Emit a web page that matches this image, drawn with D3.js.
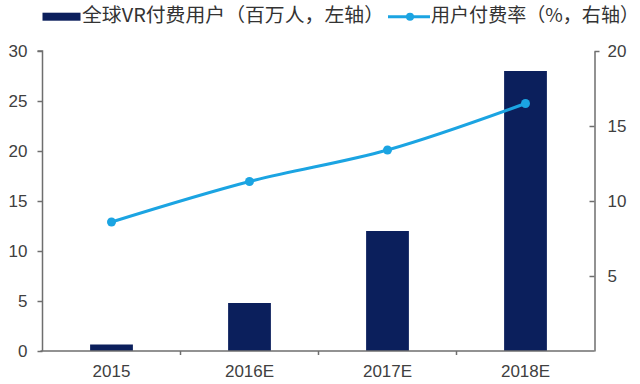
<!DOCTYPE html>
<html>
<head>
<meta charset="utf-8">
<script src="https://cdn.jsdelivr.net/npm/d3@7"></script>
<style>
  html, body { margin: 0; padding: 0; background: #fff; }
  svg { display: block; }
</style>
</head>
<body>
<svg id="chart" width="640" height="384"></svg>
<script>
// ---- data ----
const categories = ["2015", "2016E", "2017E", "2018E"];
const paidUsers = [0.65, 4.8, 12.0, 28.0];      // 百万人，左轴
const payRate = [8.6, 11.3, 13.4, 16.5];         // %，右轴
const leftTicks = [0, 5, 10, 15, 20, 25, 30];
const rightTicks = [5, 10, 15, 20];
const legendBarLabel = "全球VR付费用户（百万人，左轴）";
const legendLineLabel = "用户付费率（%，右轴）";

// ---- layout ----
const svg = d3.select("#chart");
const plotLeft = 42.5, plotRight = 594.5, plotTop = 51, plotBottom = 351;
const barColor = "#0b1f5c";
const lineColor = "#1ba4e2";
const axisColor = "#6e6e6e";
const textColor = "#404040";
const numFont = "'Liberation Sans', Arial, sans-serif";
const cjkFont = "'Noto Sans CJK SC', sans-serif";

const x = d3.scaleBand().domain(categories).range([plotLeft, plotRight]).padding(0);
const yL = d3.scaleLinear().domain([0, 30]).range([plotBottom, plotTop]);
const yR = d3.scaleLinear().domain([0, 20]).range([plotBottom, plotTop]);

// bars
const bw = x.bandwidth() * 0.31;
svg.append("g").selectAll("rect").data(categories).join("rect")
  .attr("x", (d) => x(d) + x.bandwidth() / 2 - bw / 2)
  .attr("width", bw)
  .attr("y", (d, i) => yL(paidUsers[i]))
  .attr("height", (d, i) => yL(0) - yL(paidUsers[i]))
  .attr("fill", barColor);

// left axis
const gL = svg.append("g").attr("transform", `translate(${plotLeft},0)`)
  .call(d3.axisLeft(yL).tickValues(leftTicks).tickSize(5).tickPadding(10).tickSizeOuter(0));
// right axis
const gR = svg.append("g").attr("transform", `translate(${plotRight},0)`)
  .call(d3.axisRight(yR).tickValues(rightTicks).tickSize(0).tickPadding(13).tickSizeOuter(0));
gR.selectAll(".tick line").attr("x1", (d) => d === 20 ? 5 : -5).attr("x2", 0);
// x axis
const gX = svg.append("g").attr("transform", `translate(0,${plotBottom})`)
  .call(d3.axisBottom(x).tickSize(0).tickPadding(14).tickSizeOuter(0));
gX.select(".domain").attr("d", `M${plotLeft - 2},0H${plotRight}`);
// category boundary ticks
svg.append("g").selectAll("line").data(categories.slice(1)).join("line")
  .attr("x1", (d) => x(d)).attr("x2", (d) => x(d))
  .attr("y1", plotBottom).attr("y2", plotBottom + 4)
  .attr("stroke", axisColor).attr("stroke-width", 1.5);

[gL, gR, gX].forEach((g) => {
  g.selectAll(".domain").attr("stroke", axisColor).attr("stroke-width", 1.5);
  g.selectAll(".tick line").attr("stroke", axisColor).attr("stroke-width", 1.5);
  g.selectAll(".tick text").attr("fill", textColor)
    .style("font-family", numFont).style("font-size", "17px");
});
gL.selectAll(".domain").attr("d", `M0,${plotBottom}V${plotTop}H-5`);

// line
const pts = categories.map((c, i) => [x(c) + x.bandwidth() / 2, yR(payRate[i])]);
svg.append("path").datum(pts)
  .attr("d", d3.line().curve(d3.curveCatmullRom.alpha(0.5)))
  .attr("fill", "none").attr("stroke", lineColor).attr("stroke-width", 3);
svg.append("g").selectAll("circle").data(pts).join("circle")
  .attr("cx", (d) => d[0]).attr("cy", (d) => d[1]).attr("r", 4.5)
  .attr("fill", lineColor);

// legend
const lg = svg.append("g");
lg.append("rect").attr("x", 42.5).attr("y", 12.7).attr("width", 38).attr("height", 8).attr("fill", barColor);
lg.append("text").attr("x", 82).attr("y", 22).text(legendBarLabel)
  .attr("fill", "#333").style("font-family", cjkFont).style("font-size", "19px")
  .attr("textLength", 302).attr("lengthAdjust", "spacingAndGlyphs");
lg.append("line").attr("x1", 388).attr("x2", 430).attr("y1", 16.7).attr("y2", 16.7)
  .attr("stroke", lineColor).attr("stroke-width", 3);
lg.append("circle").attr("cx", 410).attr("cy", 16.7).attr("r", 4).attr("fill", lineColor);
lg.append("text").attr("x", 431).attr("y", 22).text(legendLineLabel)
  .attr("fill", "#333").style("font-family", cjkFont).style("font-size", "19px")
  .attr("textLength", 208).attr("lengthAdjust", "spacingAndGlyphs");
</script>
</body>
</html>
